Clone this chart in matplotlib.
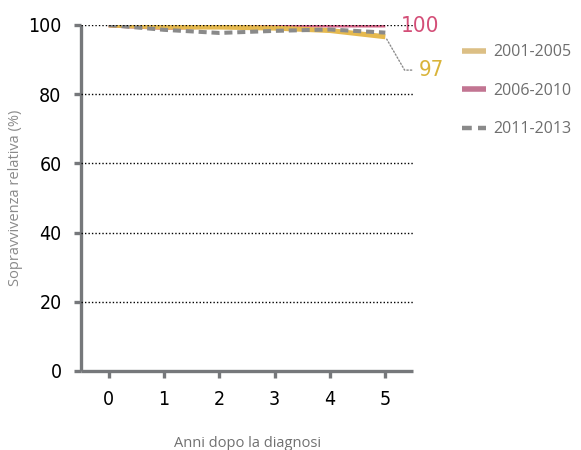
import matplotlib
matplotlib.use("Agg")
import matplotlib.pyplot as plt

years = [0, 1, 2, 3, 4, 5]
s_2001_2005 = [100, 99.4, 99.4, 99.1, 98.4, 96.6]
s_2006_2010 = [100, 99.3, 99.7, 100, 100, 100]
s_2011_2013 = [100, 98.6, 97.7, 98.3, 98.7, 97.8]
labels = ["2001-2005", "2006-2010", "2011-2013"]
yticks = [0, 20, 40, 60, 80, 100]
end_labels = ["100", "97"]

plt.rcParams['font.family'] = ['Open Sans', 'DejaVu Sans']
NARROW = dict(family='DejaVu Sans', stretch='condensed')

c_gold = "#e5b94f"
c_pink = "#d9668a"
c_gray = "#8a8a8a"
axis_c = "#76787b"

fig = plt.figure(figsize=(5.81, 4.5), dpi=100)
ax = fig.add_axes([81/581, 79/450, (413-81)/581, (371-25)/450])
ax.set_xlim(-0.5, 5.5)
ax.set_ylim(0, 100)

l2, = ax.plot(years, s_2006_2010, color=c_pink, lw=3.6, solid_capstyle='butt', zorder=2)
l1, = ax.plot(years, s_2001_2005, color=c_gold, lw=3.6, solid_capstyle='butt', zorder=3)
l3, = ax.plot(years, s_2011_2013, color=c_gray, lw=2.9, dashes=(2.0, 1.2), zorder=4)

for y in yticks[1:]:
    ax.axhline(y, color="black", lw=1.0, ls=(0, (1, 1.5)), zorder=5)

for sp in ["top", "right"]:
    ax.spines[sp].set_visible(False)
for sp in ["left", "bottom"]:
    ax.spines[sp].set_color(axis_c)
    ax.spines[sp].set_linewidth(2.4)
    ax.spines[sp].set_capstyle('butt')

ax.set_yticks(yticks)
ax.set_xticks(years)
ax.tick_params(axis='both', colors=axis_c, width=2.4, length=5, labelcolor="black",
               labelsize=14)
ax.tick_params(axis='x', pad=9)
ax.tick_params(axis='y', pad=9)
for lab in ax.get_xticklabels() + ax.get_yticklabels():
    lab.set_fontfamily(NARROW['family'])
    lab.set_fontstretch(NARROW['stretch'])

ax.set_ylabel("Sopravvivenza relativa (%)", color="#8a8a8a", fontsize=10.5, labelpad=4)
ax.set_xlabel("Anni dopo la diagnosi", color="#707070", fontsize=10.5, labelpad=19)

# end labels
ax.annotate(end_labels[0], xy=(years[-1], s_2006_2010[-1]), xytext=(11, -1),
            textcoords='offset points', color="#d44f78", fontsize=16,
            va='center', ha='left', **NARROW)
ax.annotate(end_labels[1], xy=(years[-1], s_2001_2005[-1]), xytext=(24, -24),
            textcoords='offset points', color="#d9b43a", fontsize=16,
            va='center', ha='left', **NARROW,
            arrowprops=dict(arrowstyle='-', color="#8a8a8a", lw=1.0, ls=(0, (1, 1.5)),
                            connectionstyle="angle,angleA=0,angleB=-60,rad=0",
                            shrinkA=3, shrinkB=2))
for t in ax.texts:
    t.set_clip_on(False)

leg = fig.legend([l1, l2, l3], labels, loc='upper left', bbox_to_anchor=(456/581, 1 - 38/450),
                 frameon=False, fontsize=11.5, labelspacing=1.4, handlelength=1.45,
                 handletextpad=0.5, borderaxespad=0)
for t in leg.get_texts():
    t.set_color("#6e6e6e")
leg_colors = ["#dcbf85", "#c27592", "#8a8a8a"]
leg_lw = [4, 4, 3.2]
for h, c, w in zip(leg.legend_handles, leg_colors, leg_lw):
    h.set_color(c)
    h.set_linewidth(w)
leg.legend_handles[2].set_dashes((2.2, 1.4))

fig.savefig("out.png", dpi=100)
